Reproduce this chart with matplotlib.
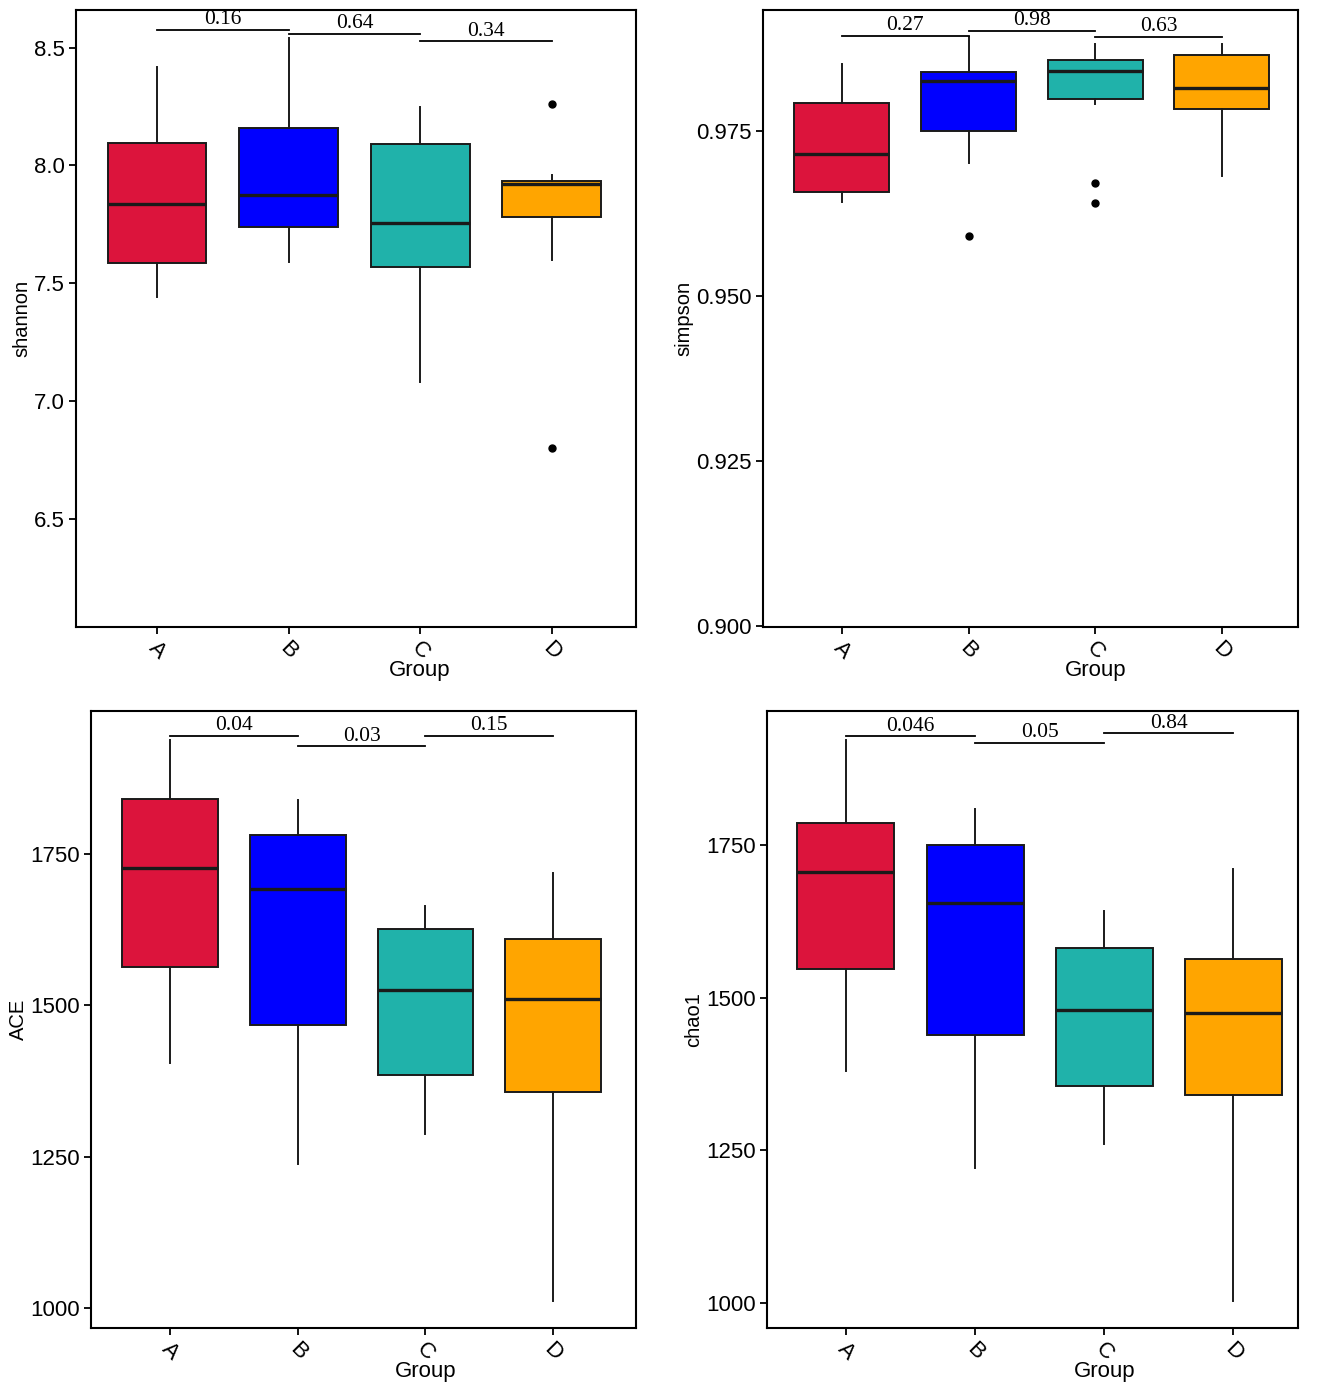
import matplotlib
matplotlib.use("Agg")
import matplotlib.pyplot as plt

groups = ["A", "B", "C", "D"]
colors = ["#DC143C", "#0000FF", "#20B2AA", "#FFA500"]

# shannon
shannon_whislo = [7.44, 7.59, 7.08, 7.60]
shannon_q1 = [7.585, 7.74, 7.57, 7.78]
shannon_med = [7.835, 7.875, 7.755, 7.92]
shannon_q3 = [8.095, 8.16, 8.09, 7.935]
shannon_whishi = [8.42, 8.54, 8.25, 7.96]
shannon_fliers = [[], [], [], [8.26, 6.80]]
shannon_p = ["0.16", "0.64", "0.34"]
shannon_py = [8.576, 8.56, 8.527]

# simpson
simpson_whislo = [0.9642, 0.9702, 0.9791, 0.9682]
simpson_q1 = [0.9658, 0.9750, 0.9799, 0.9783]
simpson_med = [0.9715, 0.9826, 0.9841, 0.9815]
simpson_q3 = [0.9792, 0.9839, 0.9858, 0.9865]
simpson_whishi = [0.9852, 0.9892, 0.9882, 0.9882]
simpson_fliers = [[], [0.9591], [0.9671, 0.9641], []]
simpson_p = ["0.27", "0.98", "0.63"]
simpson_py = [0.98939, 0.99015, 0.98924]

# ACE
ace_whislo = [1405, 1238, 1287, 1011]
ace_q1 = [1563, 1467, 1385, 1357]
ace_med = [1727, 1692, 1525, 1510]
ace_q3 = [1841, 1781, 1626, 1610]
ace_whishi = [1938, 1839, 1664, 1719]
ace_fliers = [[], [], [], []]
ace_p = ["0.04", "0.03", "0.15"]
ace_py = [1945, 1928, 1945]

# chao1
chao_whislo = [1380, 1221, 1260, 1003]
chao_q1 = [1547, 1439, 1355, 1341]
chao_med = [1706, 1655, 1480, 1475]
chao_q3 = [1786, 1750, 1581, 1563]
chao_whishi = [1922, 1809, 1642, 1711]
chao_fliers = [[], [], [], []]
chao_p = ["0.046", "0.05", "0.84"]
chao_py = [1928, 1917, 1933]

panels = [
    dict(name="shannon", lo=shannon_whislo, q1=shannon_q1, med=shannon_med, q3=shannon_q3,
         hi=shannon_whishi, fl=shannon_fliers, p=shannon_p, py=shannon_py,
         ylim=(6.04, 8.66), ticks=[6.5, 7.0, 7.5, 8.0, 8.5], fmt="{:.1f}",
         rect=[0.0574, 0.5505, 0.4226, 0.4423], xlim=(0.385, 4.64)),
    dict(name="simpson", lo=simpson_whislo, q1=simpson_q1, med=simpson_med, q3=simpson_q3,
         hi=simpson_whishi, fl=simpson_fliers, p=simpson_p, py=simpson_py,
         ylim=(0.8999, 0.9933), ticks=[0.900, 0.925, 0.950, 0.975], fmt="{:.3f}",
         rect=[0.5758, 0.5505, 0.4038, 0.4423], xlim=(0.377, 4.60)),
    dict(name="ACE", lo=ace_whislo, q1=ace_q1, med=ace_med, q3=ace_q3,
         hi=ace_whishi, fl=ace_fliers, p=ace_p, py=ace_py,
         ylim=(967, 1986), ticks=[1000, 1250, 1500, 1750], fmt="{:.0f}",
         rect=[0.0687, 0.0480, 0.4113, 0.4423], xlim=(0.38, 4.65)),
    dict(name="chao1", lo=chao_whislo, q1=chao_q1, med=chao_med, q3=chao_q3,
         hi=chao_whishi, fl=chao_fliers, p=chao_p, py=chao_py,
         ylim=(959, 1969), ticks=[1000, 1250, 1500, 1750], fmt="{:.0f}",
         rect=[0.5789, 0.0480, 0.4008, 0.4423], xlim=(0.39, 4.50)),
]

sans = ["Liberation Sans", "DejaVu Sans"]
serif = ["Liberation Serif", "DejaVu Serif"]

fig = plt.figure(figsize=(13.25, 13.95), dpi=100)
for pan in panels:
    ax = fig.add_axes(pan["rect"])
    stats = []
    for i, g in enumerate(groups):
        stats.append(dict(label=g, med=pan["med"][i], q1=pan["q1"][i], q3=pan["q3"][i],
                          whislo=pan["lo"][i], whishi=pan["hi"][i], fliers=pan["fl"][i]))
    bp = ax.bxp(stats, positions=[1, 2, 3, 4], widths=0.75, patch_artist=True,
                showcaps=False,
                boxprops=dict(edgecolor="#1a1a1a", linewidth=1.4),
                whiskerprops=dict(color="#1a1a1a", linewidth=1.4),
                medianprops=dict(color="#1a1a1a", linewidth=2.4),
                flierprops=dict(marker="o", markerfacecolor="black", markeredgecolor="black",
                                markersize=5))
    for patch, c in zip(bp["boxes"], colors):
        patch.set_facecolor(c)
    # significance brackets
    pairs = [(1, 2), (2, 3), (3, 4)]
    for (a, b), txt, y in zip(pairs, pan["p"], pan["py"]):
        ax.plot([a, b], [y, y], color="black", linewidth=1.3, clip_on=False)
        ax.annotate(txt, xy=((a + b) / 2, y), xytext=(0, 0.3), textcoords="offset points",
                    ha="center", va="bottom", fontsize=15.5, family=serif, annotation_clip=False)
    ax.set_xlim(*pan["xlim"])
    ax.set_ylim(*pan["ylim"])
    ax.set_yticks(pan["ticks"])
    ax.set_yticklabels([pan["fmt"].format(t) for t in pan["ticks"]], family=sans, fontsize=16)
    ax.set_xticks([1, 2, 3, 4])
    ax.set_xticklabels(groups, family=sans, fontsize=16, rotation=-45,
                       ha="center", va="top")
    ax.tick_params(axis="both", direction="out", length=5, width=1.3, color="black", pad=3)
    for s in ax.spines.values():
        s.set_linewidth(1.5)
        s.set_color("black")
    ax.set_xlabel("Group", family=sans, fontsize=16)
    x0, x1 = pan["xlim"]
    ax.xaxis.set_label_coords((3 - x0) / (x1 - x0), -0.071)
    ax.xaxis.label.set_va("center")
    ax.set_ylabel(pan["name"], family=sans, fontsize=14.5, labelpad=2)

fig.savefig("out.png", dpi=100)
